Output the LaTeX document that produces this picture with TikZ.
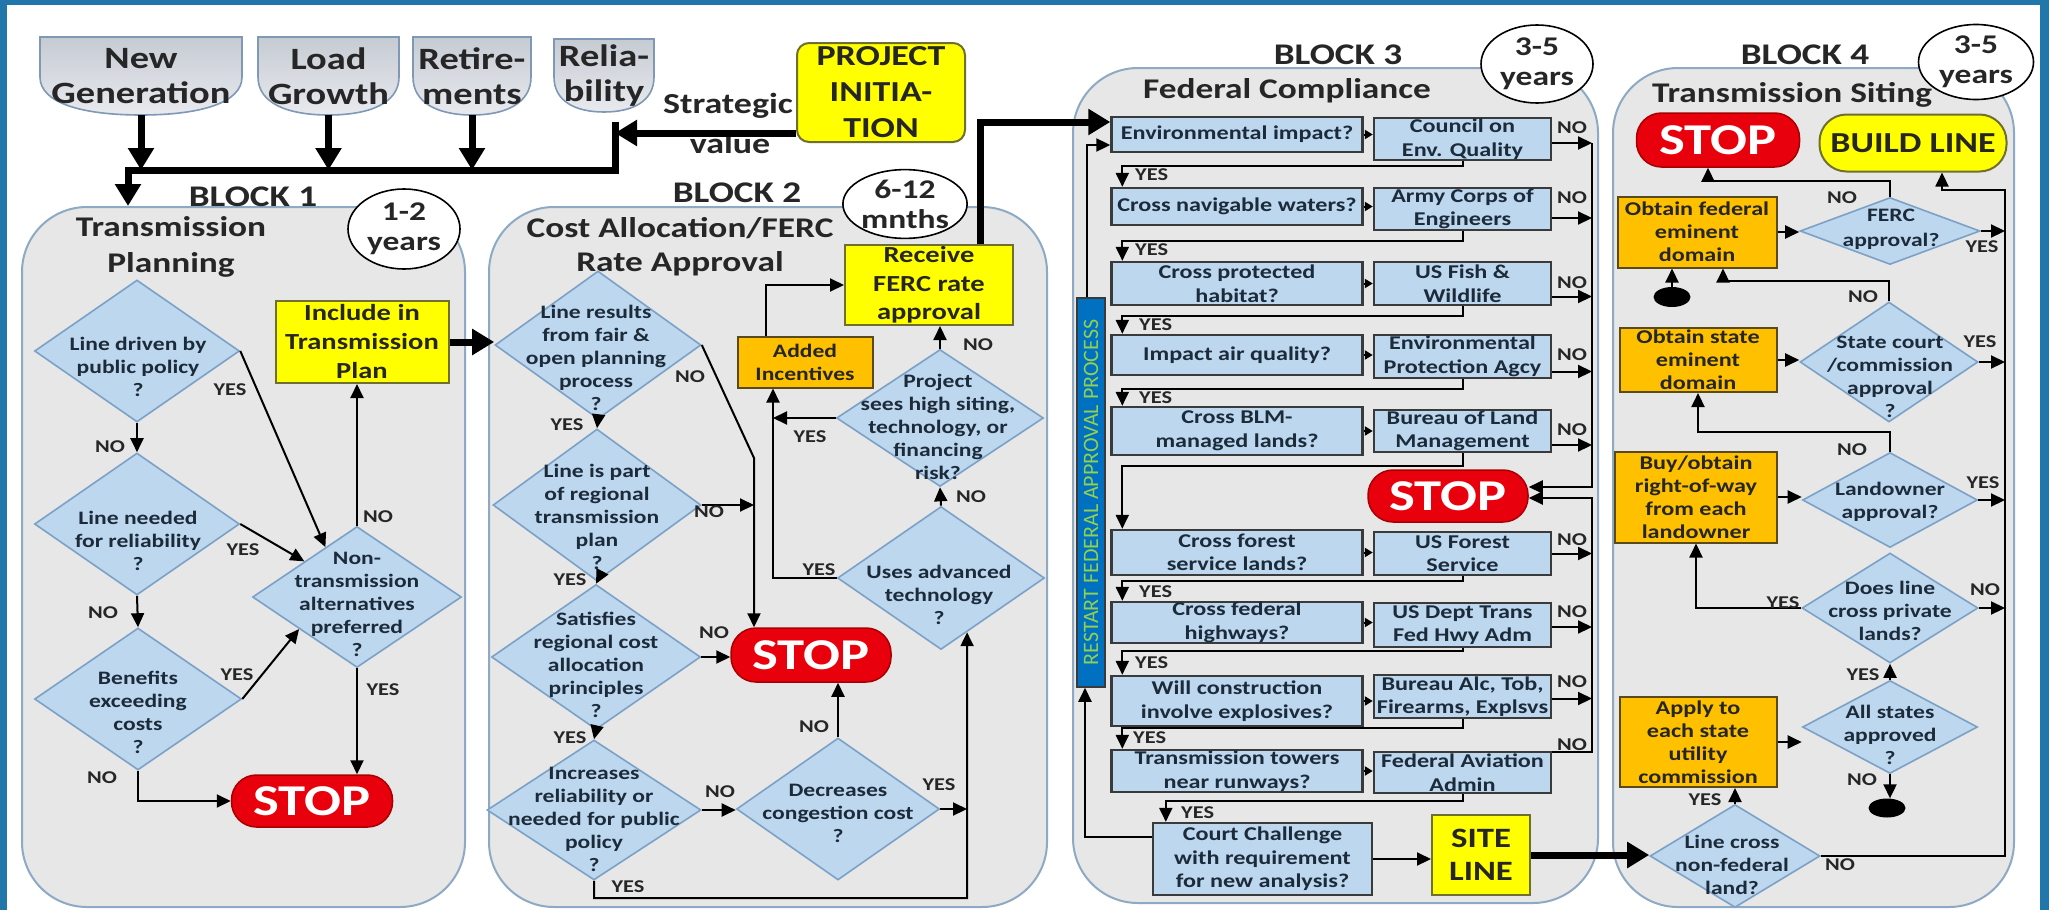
\documentclass[tikz,border=0pt]{standalone}
\usepackage{fontspec}
\setmainfont{Carlito}[FakeStretch=1.24]
\newfontfamily\plainfont{Carlito}
\usetikzlibrary{arrows.meta,shapes.geometric,shapes.misc,calc}
\definecolor{frameblue}{HTML}{2277AA}
\definecolor{blkfill}{HTML}{E7E7E7}
\definecolor{blkdraw}{HTML}{8DA9C4}
\definecolor{diafill}{HTML}{BDD7EE}
\definecolor{diadraw}{HTML}{7BA1C7}
\definecolor{diatxt}{HTML}{1C2B3A}
\definecolor{txtdark}{HTML}{262626}
\definecolor{boxdraw}{HTML}{3A3A3A}
\definecolor{ylw}{HTML}{FFFF00}
\definecolor{ylwdraw}{HTML}{6F6F30}
\definecolor{org}{HTML}{FFC000}
\definecolor{orgdraw}{HTML}{5A4A1A}
\definecolor{stopred}{HTML}{E8000C}
\definecolor{stopdark}{HTML}{A80000}
\definecolor{toptop}{HTML}{C6CBD3}
\definecolor{topbot}{HTML}{E8EAEE}
\definecolor{topdraw}{HTML}{7F98B5}
\definecolor{rstblue}{HTML}{0070C0}
\definecolor{rstgreen}{HTML}{92D050}
\begin{document}
\begin{tikzpicture}[x=1pt,y=-1pt,
  blk/.style={rectangle,draw=blkdraw,fill=blkfill,line width=2pt,rounded corners=65pt,inner sep=0pt},
  ttl/.style={font=\fontsize{30}{34}\selectfont\bfseries,text=txtdark,align=center,inner sep=0pt},
  sub/.style={font=\fontsize{28.5}{36}\selectfont\bfseries,text=txtdark,align=center,inner sep=0pt},
  dur/.style={ellipse,draw=black,fill=white,line width=1.6pt,inner sep=0pt,align=center,font=\fontsize{27}{30}\selectfont\bfseries,text=txtdark},
  dia/.style={diamond,draw=diadraw,fill=diafill,line width=1.6pt,inner sep=0pt},
  dtxt/.style={align=center,text=diatxt,font=\fontsize{19}{23}\selectfont\bfseries,inner sep=0pt},
  bbox/.style={rectangle,draw=boxdraw,fill=diafill,line width=2.4pt,inner sep=0pt,align=center,text=diatxt,font=\fontsize{19.5}{23.5}\selectfont\bfseries},
  ybox/.style={rectangle,draw=ylwdraw,fill=ylw,line width=2pt,inner sep=0pt,align=center,text=txtdark},
  obox/.style={rectangle,draw=orgdraw,fill=org,line width=2pt,inner sep=0pt,align=center,text=txtdark,font=\fontsize{19.5}{23}\selectfont\bfseries},
  stopn/.style={rectangle,rounded corners=25pt,draw=stopdark,fill=stopred,line width=1.5pt,inner sep=0pt,text=white,font=\fontsize{44}{44}\selectfont\bfseries},
  lab/.style={font=\fontsize{18}{18}\selectfont\bfseries,text=txtdark,inner sep=0pt},
  toptxt/.style={align=center,inner sep=0pt,text=txtdark,font=\fontsize{31}{35}\selectfont\bfseries},
  topsh/.style={draw=topdraw,top color=toptop,bottom color=topbot,line width=1.6pt},
  arr/.style={draw=black,line width=2pt,-{Triangle[length=14pt,width=13pt]}},
  sarr/.style={draw=black,line width=2pt,-{Triangle[length=8pt,width=9pt]}},
  thk/.style={draw=black,line width=7pt,line join=miter,-{Triangle[length=22pt,width=25pt]}},
  dot/.style={ellipse,fill=black,inner sep=0pt}
]
\useasboundingbox (0,0) rectangle (2049,910);
\fill[frameblue] (0,0) rectangle (2049,910);
\fill[white] (7,5) rectangle (2040,910);

% ---------- blocks
\node[blk,minimum width=443pt,minimum height=700pt] (blk1) at (243.5,557) {};
\node[blk,minimum width=558pt,minimum height=700pt] (blk2) at (768,557) {};
\node[blk,minimum width=525pt,minimum height=835pt] (blk3) at (1335.5,485.5) {};
\node[blk,minimum width=401pt,minimum height=839pt] (blk4) at (1813.5,487.5) {};

\node[ttl] (b1t) at (253,197) {BLOCK 1};
\node[ttl] (b2t) at (737,193) {BLOCK 2};
\node[ttl] (b3t) at (1338,55) {BLOCK 3};
\node[ttl] (b4t) at (1805,55) {BLOCK 4};
\node[sub] (b1s) at (171,247) {Transmission\\Planning};
\node[sub,font=\fontsize{28.5}{34}\selectfont\bfseries] (b2s) at (680,247) {Cost Allocation/FERC\\Rate Approval};
\node[sub] (b3s) at (1287,91) {Federal Compliance};
\node[sub] (b4s) at (1792,95) {Transmission Siting};

% ---------- top row
\draw[topsh] (40,37) -- (242,37) -- (242,77) .. controls (242,103) and (200,115) .. (141,115) .. controls (82,115) and (40,103) .. (40,77) -- cycle;
\node[toptxt,minimum width=202pt,minimum height=78pt] (s1) at (141,76) {New\\Generation};
\draw[topsh] (258,37) -- (399,37) -- (399,77) .. controls (399,103) and (370,115) .. (328.5,115) .. controls (287,115) and (258,103) .. (258,77) -- cycle;
\node[toptxt,minimum width=141pt,minimum height=78pt] (s2) at (328.5,76) {Load\\Growth};
\draw[topsh] (413,37) -- (531,37) -- (531,77) .. controls (531,103) and (506,115) .. (472,115) .. controls (438,115) and (413,103) .. (413,77) -- cycle;
\node[toptxt,minimum width=118pt,minimum height=78pt] (s3) at (472,76) {Retire-\\ments};
\draw[topsh] (554,39) -- (654,39) -- (654,77) .. controls (654,101) and (633,112) .. (604,112) .. controls (575,112) and (554,101) .. (554,77) -- cycle;
\node[toptxt,minimum width=100pt,minimum height=73pt] (s4) at (604,75.5) {Relia-\\bility};
\node[ybox,rounded corners=12pt,minimum width=168pt,minimum height=99pt,font=\fontsize{29}{36}\selectfont\bfseries] (pi) at (881,92.5) {PROJECT\\INITIA-\\TION};
\node[lab,font=\fontsize{29}{29}\selectfont\bfseries] (sv1) at (728,106) {Strategic};
\node[lab,font=\fontsize{29}{29}\selectfont\bfseries] (sv2) at (730,143) {value};

\coordinate (jT) at (615,122);
\coordinate (jR) at (615,170);
\coordinate (jL) at (128,170);
\draw[thk] (jT) -- (jR) -- (jL) -- (jL |- blk1.north);
\draw[thk] (s1.south) -- (s1.south |- jL);
\draw[thk] (s2.south) -- (s2.south |- jL);
\draw[thk] (s3.south) -- (s3.south |- jL);
\coordinate (pa) at ($(pi.south west)+(0,-10)$);
\draw[thk] (pa) -- (pa -| jT);

% ---------- block 1
\node[dur,minimum width=112pt,minimum height=80pt] (y1) at (404,229) {1-2\\years};
\node[dia,minimum width=205pt,minimum height=142pt] (d1) at (137,351) {};
\node[dtxt] (d1t) at (138,367) {Line driven by\\public policy\\?};
\node[dia,minimum width=205pt,minimum height=142pt] (d2) at (137,524) {};
\node[dtxt] (d2t) at (138,541) {Line needed\\for reliability\\?};
\node[dia,minimum width=207pt,minimum height=142pt] (d3) at (138,699) {};
\node[dtxt] (d3t) at (138,712) {Benefits\\exceeding\\costs\\?};
\node[dia,minimum width=209pt,minimum height=141pt] (d4) at (357,597) {};
\node[dtxt] (d4t) at (357,604) {Non-\\transmission\\alternatives\\preferred\\?};
\node[ybox,minimum width=173pt,minimum height=82pt,font=\fontsize{23}{29}\selectfont\bfseries] (inc1) at (362,342) {Include in\\Transmission\\Plan};
\node[stopn,minimum width=161pt,minimum height=52pt] (stop1) at (312,801) {STOP};

\draw[arr] (d1.south) -- (d2.north);
\draw[arr] (d2.south) -- (d3.north);
\draw[arr] (d1.east) -- ($(d4.north)!0.3!(d4.west)$);
\draw[arr] (d2.east) -- ($(d4.north)!0.5!(d4.west)$);
\draw[arr] (d3.east) -- ($(d4.west)!0.45!(d4.south)$);
\draw[arr] (d3.south) |- (stop1.west);
\draw[arr] (d4.south) -- (d4.south |- stop1.north);
\draw[arr] (d4.north) -- (d4.north |- inc1.south);
\node[lab] (q1) at (110,447) {NO};
\node[lab] (q2) at (103,613) {NO};
\node[lab] (q3) at (230,390) {YES};
\node[lab] (q4) at (243,550) {YES};
\node[lab] (q5) at (237,675) {YES};
\node[lab] (q6) at (102,778) {NO};
\node[lab] (q7) at (383,690) {YES};
\node[lab] (q8) at (378,517) {NO};

% ---------- block 2
\node[dur,minimum width=115pt,minimum height=68pt] (y2) at (905,204) {6-12\\mnths};
\node[dia,minimum width=206pt,minimum height=148pt] (e1) at (598,345) {};
\node[dtxt] (e1t) at (596,358) {Line results\\from fair \&\\open planning\\process\\?};
\node[dia,minimum width=208pt,minimum height=152pt] (e2) at (597,505) {};
\node[dtxt] (e2t) at (597,517) {Line is part\\of regional\\transmission\\plan\\?};
\node[dia,minimum width=209pt,minimum height=145pt] (e3) at (596,657) {};
\node[dtxt] (e3t) at (596,665) {Satisfies\\regional cost\\allocation\\principles\\?};
\node[dia,minimum width=214pt,minimum height=140pt] (e4) at (594,810) {};
\node[dtxt] (e4t) at (594,819) {Increases\\reliability or\\needed for public\\policy\\?};
\node[dia,minimum width=203pt,minimum height=142pt] (e5) at (838,809) {};
\node[dtxt] (e5t) at (838,813) {Decreases\\congestion cost\\?};
\node[dia,minimum width=207pt,minimum height=143pt] (e6) at (941,578) {};
\node[dtxt] (e6t) at (939,595) {Uses advanced\\technology\\?};
\node[dia,minimum width=207pt,minimum height=137pt] (e7) at (940,418) {};
\node[dtxt] (e7t) at (938,427) {Project\\sees high siting,\\technology, or\\financing\\risk?};
\node[ybox,minimum width=168pt,minimum height=80pt,font=\fontsize{23}{28.5}\selectfont\bfseries] (recv) at (929,285) {Receive\\FERC rate\\approval};
\node[obox,minimum width=135pt,minimum height=51pt,font=\fontsize{19}{23}\selectfont\bfseries] (inc2) at (805,362) {Added\\Incentives};
\node[stopn,minimum width=160pt,minimum height=54pt] (stop2) at (811,655) {STOP};

\draw[thk] (inc1.east) -- (inc1.east -| e1.west);
\draw[arr] (e1.south) -- (e2.north);
\draw[arr] (e2.south) -- (e3.north);
\draw[arr] (e3.south) -- (e4.north);
\coordinate (c2a) at (754,458);
\draw[arr] (e1.east) -- (c2a) -- (c2a |- stop2.north);
\draw[arr] (e2.east) -- (e2.east -| c2a);
\draw[arr] (e3.east) -- (e3.east -| stop2.west);
\draw[arr] (e4.east) -- (e4.east -| e5.west);
\draw[arr] (e5.north) -- (e5.north |- stop2.south);
\coordinate (c2b) at (967,898);
\draw[arr] (e5.east) -- (e5.east -| c2b);
\draw[arr] (e4.south) |- (c2b) -- ($(e6.south)!0.25!(e6.east)$);
\draw[arr] (e6.north) -- (e7.south);
\draw[arr] (e7.north) -- (e7.north |- recv.south);
\coordinate (c2c) at (773,578);
\draw[arr] (e7.west) -- (e7.west -| c2c);
\draw[arr] (e6.west) -- (c2c) -- (c2c |- inc2.south);
\draw[arr] ($(inc2.north)+(-39,0)$) |- (recv.west);
\node[lab] (q9) at (567,425) {YES};
\node[lab] (q10) at (570,580) {YES};
\node[lab] (q11) at (570,738) {YES};
\node[lab] (q12) at (690,377) {NO};
\node[lab] (q13) at (709,512) {NO};
\node[lab] (q14) at (714,633) {NO};
\node[lab] (q15) at (720,792) {NO};
\node[lab] (q16) at (814,727) {NO};
\node[lab] (q17) at (939,785) {YES};
\node[lab] (q18) at (628,887) {YES};
\node[lab] (q19) at (971,497) {NO};
\node[lab] (q20) at (978,345) {NO};
\node[lab] (q21) at (810,437) {YES};
\node[lab] (q22) at (819,570) {YES};

% ---------- block 3
\node[dur,minimum width=112pt,minimum height=78pt] (y3) at (1537,64) {3-5\\years};
\node[bbox,minimum width=251pt,minimum height=35pt] (l1) at (1237,134.5) {Environmental impact?};
\node[bbox,minimum width=177pt,minimum height=42pt] (r1) at (1462.5,139) {Council on\\Env. Quality};
\node[bbox,minimum width=251pt,minimum height=37pt] (l2) at (1237,206.5) {Cross navigable waters?};
\node[bbox,minimum width=177pt,minimum height=42pt] (r2) at (1462.5,209) {Army Corps of\\Engineers};
\node[bbox,minimum width=251pt,minimum height=43pt] (l3) at (1237,283.5) {Cross protected\\habitat?};
\node[bbox,minimum width=177pt,minimum height=43pt] (r3) at (1462.5,283.5) {US Fish \&\\Wildlife};
\node[bbox,minimum width=251pt,minimum height=40pt] (l4) at (1237,355) {Impact air quality?};
\node[bbox,minimum width=177pt,minimum height=43pt] (r4) at (1462.5,356.5) {Environmental\\Protection Agcy};
\node[bbox,minimum width=251pt,minimum height=48pt] (l5) at (1237,431) {Cross BLM-\\managed lands?};
\node[bbox,minimum width=177pt,minimum height=42pt] (r5) at (1462.5,431) {Bureau of Land\\Management};
\node[stopn,minimum width=160pt,minimum height=52pt] (stop3) at (1448,496) {STOP};
\node[bbox,minimum width=251pt,minimum height=45pt] (l6) at (1237,552.5) {Cross forest\\service lands?};
\node[bbox,minimum width=177pt,minimum height=43pt] (r6) at (1462.5,553.5) {US Forest\\Service};
\node[bbox,minimum width=251pt,minimum height=41pt] (l7) at (1237,622.5) {Cross federal\\highways?};
\node[bbox,minimum width=177pt,minimum height=44pt] (r7) at (1462.5,625) {US Dept Trans\\Fed Hwy Adm};
\node[bbox,minimum width=251pt,minimum height=50pt] (l8) at (1237,701) {Will construction\\involve explosives?};
\node[bbox,minimum width=177pt,minimum height=43pt] (r8) at (1462.5,696.5) {Bureau Alc, Tob,\\Firearms, Explsvs};
\node[bbox,minimum width=251pt,minimum height=42pt] (l9) at (1237,771) {Transmission towers\\near runways?};
\node[bbox,minimum width=177pt,minimum height=41pt] (r9) at (1462.5,772.5) {Federal Aviation\\Admin};
\node[bbox,minimum width=219pt,minimum height=72pt] (court) at (1262.5,859) {Court Challenge\\with requirement\\for new analysis?};
\node[ybox,minimum width=98pt,minimum height=80pt,font=\fontsize{28}{33}\selectfont\bfseries] (site) at (1481,855) {SITE\\LINE};
\node[rectangle,draw=boxdraw,fill=rstblue,line width=1.5pt,minimum width=28pt,minimum height=389pt,inner sep=0pt] (rst) at (1091,492.5) {};
\node[rotate=90,text=rstgreen,font=\plainfont\fontsize{22}{22}\selectfont,inner sep=0pt] (rstt) at (rst) {RESTART FEDERAL APPROVAL PROCESS};

\draw[thk] ($(recv.north)+(51,0)$) |- ($(l1.west)+(0,-12.5)$);
\draw[arr] ($(rst.north)+(-4,0)$) |- ($(l1.west)+(0,10.5)$);
\coordinate (cc) at ($(court.west)+(0,-22)$);
\draw[arr] (cc) -| ($(rst.south)+(-6,0)$);
\draw[arr] (court.east) -- (court.east -| site.west);

\draw[sarr] (l1.east) -- (l1.east -| r1.west);
\draw[sarr] (l2.east) -- (l2.east -| r2.west);
\draw[sarr] (l3.east) -- (l3.east -| r3.west);
\draw[sarr] (l4.east) -- (l4.east -| r4.west);
\draw[sarr] (l5.east) -- (l5.east -| r5.west);
\draw[sarr] (l6.east) -- (l6.east -| r6.west);
\draw[sarr] (l7.east) -- (l7.east -| r7.west);
\draw[sarr] (l8.east) -- (l8.east -| r8.west);
\draw[sarr] (l9.east) -- (l9.east -| r9.west);

\draw[arr] (r1.south) -- ++(0,5) -| ($(l2.north west)+(12,0)$);
\draw[arr] (r2.south) -- ++(0,10) -| ($(l3.north west)+(12,0)$);
\draw[arr] (r3.south) -- ++(0,10) -| ($(l4.north west)+(12,0)$);
\draw[arr] (r4.south) -- ++(0,10) -| ($(l5.north west)+(12,0)$);
\draw[arr] (r5.south) -- ++(0,13) -| ($(l6.north west)+(12,0)$);
\draw[arr] (r6.south) -- ++(0,5) -| ($(l7.north west)+(12,0)$);
\draw[arr] (r7.south) -- ++(0,3) -| ($(l8.north west)+(12,0)$);
\draw[arr] (r8.south) -- ++(0,9) -| ($(l9.north west)+(12,0)$);
\draw[arr] (r9.south) -- ++(0,7) -| ($(court.north west)+(14,0)$);

\coordinate (vl) at (1592,0);
\coordinate (n1) at ($(r1.east)+(0,4)$);
\coordinate (n2) at ($(r2.east)+(0,9)$);
\coordinate (n3) at ($(r3.east)+(0,13)$);
\coordinate (n4) at ($(r4.east)+(0,15)$);
\coordinate (n5) at ($(r5.east)+(0,14)$);
\coordinate (n6) at ($(r6.east)+(0,0)$);
\coordinate (n7) at ($(r7.east)+(0,2)$);
\coordinate (n8) at ($(r8.east)+(0,2)$);
\coordinate (n9) at ($(r9.north east)+(0,1)$);
\draw[arr] (n1) -- (n1 -| vl);
\draw[arr] (n2) -- (n2 -| vl);
\draw[arr] (n3) -- (n3 -| vl);
\draw[arr] (n4) -- (n4 -| vl);
\draw[arr] (n5) -- (n5 -| vl);
\draw[arr] (n6) -- (n6 -| vl);
\draw[arr] (n7) -- (n7 -| vl);
\draw[arr] (n8) -- (n8 -| vl);
\draw[arr] (n1 -| vl) |- ($(stop3.east)+(0,-9)$);
\draw[arr] (n9) -- (n9 -| vl) |- ($(stop3.east)+(0,2)$);

\node[lab,anchor=west] (q23) at (1135,175) {YES};
\node[lab,anchor=west] (q24) at (1135,250) {YES};
\node[lab,anchor=west] (q25) at (1139,325) {YES};
\node[lab,anchor=west] (q26) at (1139,398) {YES};
\node[lab,anchor=west] (q27) at (1139,592) {YES};
\node[lab,anchor=west] (q28) at (1135,663) {YES};
\node[lab,anchor=west] (q29) at (1133,738) {YES};
\node[lab,anchor=west] (q30) at (1181,813) {YES};
\node[lab] (q31) at (1572,128) {NO};
\node[lab] (q32) at (1572,198) {NO};
\node[lab] (q33) at (1572,283) {NO};
\node[lab] (q34) at (1572,355) {NO};
\node[lab] (q35) at (1572,430) {NO};
\node[lab] (q36) at (1572,540) {NO};
\node[lab] (q37) at (1572,612) {NO};
\node[lab] (q38) at (1572,682) {NO};
\node[lab] (q39) at (1572,745) {NO};

% ---------- block 4
\node[dur,minimum width=115pt,minimum height=75pt] (y4) at (1976,62) {3-5\\years};
\node[stopn,minimum width=163pt,minimum height=54pt] (stop4) at (1718,140) {STOP};
\node[ybox,rounded corners=27pt,minimum width=187pt,minimum height=57pt,font=\fontsize{29}{29}\selectfont\bfseries] (build) at (1913,143) {BUILD LINE};
\node[obox,minimum width=159pt,minimum height=71pt] (f1) at (1697,232) {Obtain federal\\eminent\\domain};
\node[dia,minimum width=180pt,minimum height=67pt] (g1) at (1890,231) {};
\node[dtxt,font=\fontsize{19}{25}\selectfont\bfseries] (g1t) at (1891,229) {FERC\\approval?};
\node[dot,minimum width=37pt,minimum height=20pt] (dot1) at (1672,297) {};
\node[obox,minimum width=157pt,minimum height=64pt] (f2) at (1698,360) {Obtain state\\eminent\\domain};
\node[dia,minimum width=178pt,minimum height=120pt] (g2) at (1889,362) {};
\node[dtxt] (g2t) at (1890,377) {State court\\/commission\\approval\\?};
\node[obox,minimum width=162pt,minimum height=91pt] (f3) at (1696,497) {Buy/obtain\\right-of-way\\from each\\landowner};
\node[dia,minimum width=175pt,minimum height=95pt] (g3) at (1890,500) {};
\node[dtxt] (g3t) at (1890,502) {Landowner\\approval?};
\node[dia,minimum width=176pt,minimum height=110pt] (g4) at (1890,608) {};
\node[dtxt] (g4t) at (1890,611) {Does line\\cross private\\lands?};
\node[obox,minimum width=157pt,minimum height=90pt] (f4) at (1698,742) {Apply to\\each state\\utility\\commission};
\node[dia,minimum width=175pt,minimum height=93pt] (g5) at (1890,727) {};
\node[dtxt] (g5t) at (1890,735) {All states\\approved\\?};
\node[dot,minimum width=37pt,minimum height=19pt] (dot2) at (1887,808) {};
\node[dia,minimum width=170pt,minimum height=103pt] (g6) at (1735,856) {};
\node[dtxt] (g6t) at (1732,865) {Line cross\\non-federal\\land?};

\draw[thk] (site.east) -- (site.east -| g6.west);
\coordinate (vr) at (2005,0);
\coordinate (vrt) at (2005,190);
\draw[arr] (g6.east) -| (vrt) -| ($(build.south)+(29,0)$);
\draw[arr] (f1.east) -- (f1.east -| g1.west);
\draw[arr] (f2.east) -- (f2.east -| g2.west);
\draw[arr] (f3.east) -- (f3.east -| g3.west);
\draw[arr] (f4.east) -- (f4.east -| g5.west);
\draw[arr] (g1.east) -- (g1.east -| vr);
\draw[arr] (g2.east) -- (g2.east -| vr);
\draw[arr] (g3.east) -- (g3.east -| vr);
\draw[arr] (g4.east) -- (g4.east -| vr);
\draw[arr] (g1.north) -- ++(0,-16) -| ($(stop4.south)+(-10,0)$);
\draw[arr] (dot1.north) -- (dot1.north |- f1.south);
\draw[arr] (g2.north) -- ++(0,-20) -| ($(f1.south)+(26,0)$);
\draw[arr] (g3.north) -- ++(0,-20) -| (f2.south);
\draw[arr] (g4.west) -| (f3.south);
\draw[arr] (g5.north) -- (g4.south);
\draw[arr] (g5.south) -- (g5.south |- dot2.north);
\draw[arr] (g6.north) -- (g6.north |- f4.south);
\node[lab] (q40) at (1842,198) {NO};
\node[lab] (q41) at (1982,247) {YES};
\node[lab] (q42) at (1863,297) {NO};
\node[lab] (q43) at (1980,342) {YES};
\node[lab] (q44) at (1852,450) {NO};
\node[lab] (q45) at (1983,483) {YES};
\node[lab] (q46) at (1783,603) {YES};
\node[lab] (q47) at (1985,590) {NO};
\node[lab] (q48) at (1863,675) {YES};
\node[lab] (q49) at (1862,780) {NO};
\node[lab] (q50) at (1705,800) {YES};
\node[lab] (q51) at (1840,865) {NO};
\end{tikzpicture}
\end{document}
